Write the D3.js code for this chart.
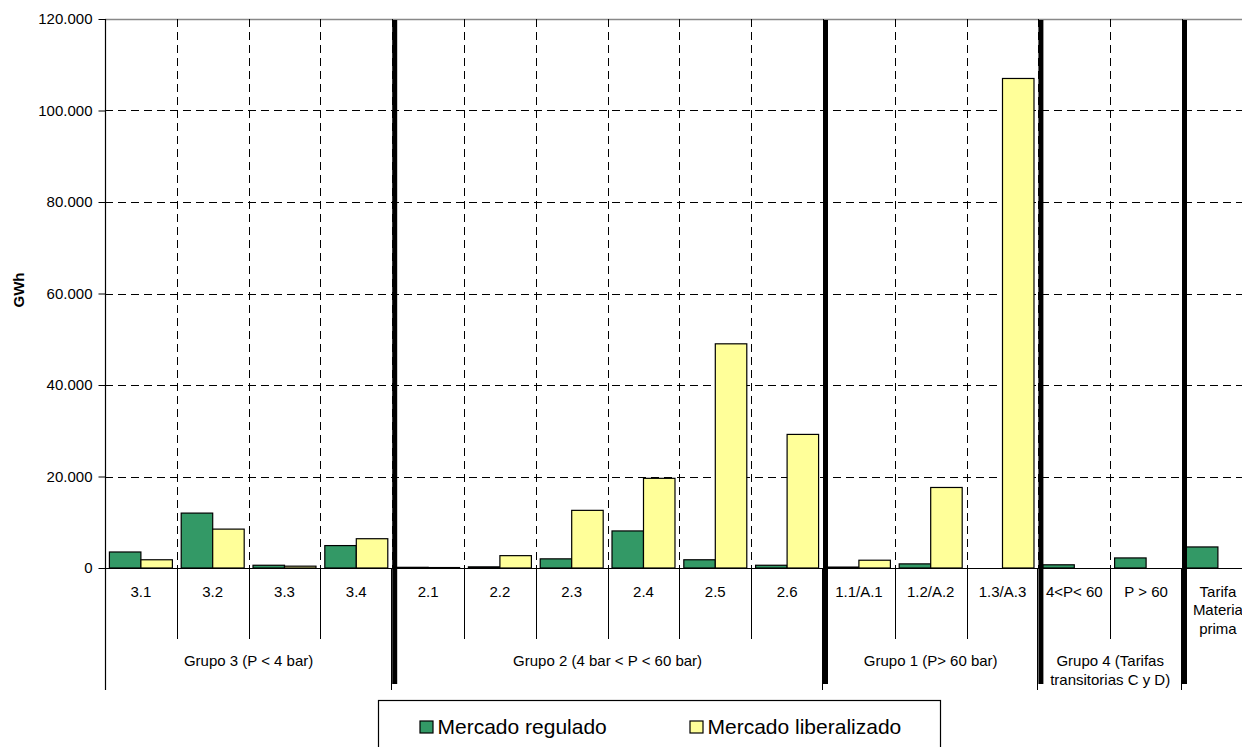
<!DOCTYPE html>
<html>
<head>
<meta charset="utf-8">
<script src="https://cdn.jsdelivr.net/npm/d3@7"></script>
<style>
html,body{margin:0;padding:0;background:#fff;overflow:hidden;}
svg{display:block;font-family:"Liberation Sans",Arial,sans-serif;}
</style>
</head>
<body>
<svg id="chart" width="1242" height="747"></svg>
<script>
const categories = ["3.1","3.2","3.3","3.4","2.1","2.2","2.3","2.4","2.5","2.6","1.1/A.1","1.2/A.2","1.3/A.3","4<P< 60","P > 60","Tarifa\nMateria\nprima"];
const regulado = [3500, 12000, 600, 4900, 150, 250, 2000, 8100, 1800, 600, 200, 900, 0, 700, 2200, 4600];
const liberalizado = [1800, 8500, 400, 6400, 100, 2700, 12600, 19600, 49000, 29200, 1700, 17600, 107000, 0, 0, 0];
const seriesNames = ["Mercado regulado", "Mercado liberalizado"];
const seriesColors = ["#339966", "#FFFF99"];
const groupLabels = ["Grupo 3 (P < 4 bar)", "Grupo 2 (4 bar < P < 60 bar)", "Grupo 1 (P> 60 bar)", "Grupo 4 (Tarifas\ntransitorias C y D)", ""];
const groupSizes = [4, 6, 3, 2, 1];
const yTicks = [0, 20000, 40000, 60000, 80000, 100000, 120000];
const yTitle = "GWh";

(function () {
const svg = d3.select("#chart");
const pLeft = 105, pTop = 19, base = 568, step = 71.8;
const pRight = pLeft + step * categories.length;

const x = d3.scaleBand().domain(d3.range(categories.length)).range([pLeft, pRight]).paddingInner(0).paddingOuter(0);
const xs = d3.scaleBand().domain([0, 1]).range([0, x.bandwidth()]).paddingInner(0).paddingOuter(0.14);
const y = d3.scaleLinear().domain([0, 120000]).range([base, pTop]);
const fmt = d3.formatLocale({decimal: ",", thousands: ".", grouping: [3], currency: ["", ""]}).format(",d");

svg.append("rect").attr("width", 1242).attr("height", 747).attr("fill", "#fff");

// horizontal gridlines
svg.append("g").selectAll("line").data(yTicks.filter(d => d > 0 && d < 120000)).join("line")
  .attr("x1", pLeft).attr("x2", 1242).attr("y1", d => Math.round(y(d)) + 0.5).attr("y2", d => Math.round(y(d)) + 0.5)
  .attr("stroke", "#000").attr("stroke-dasharray", "8,5").attr("stroke-width", 1);
// top border
svg.append("line").attr("x1", pLeft).attr("x2", 1242).attr("y1", pTop + 0.5).attr("y2", pTop + 0.5)
  .attr("stroke", "#888").attr("stroke-width", 1.5);

// vertical gridlines at category boundaries
svg.append("g").selectAll("line").data(d3.range(1, categories.length)).join("line")
  .attr("x1", i => Math.round(x(i)) + 0.5).attr("x2", i => Math.round(x(i)) + 0.5)
  .attr("y1", pTop).attr("y2", base)
  .attr("stroke", "#000").attr("stroke-dasharray", "8,5").attr("stroke-width", 1);

// bars
const barData = [];
categories.forEach((c, i) => {
  [regulado[i], liberalizado[i]].forEach((v, s) => { if (v > 0) barData.push({i, s, v}); });
});
svg.append("g").selectAll("rect").data(barData).join("rect")
  .attr("x", d => x(d.i) + xs(d.s)).attr("width", xs.bandwidth())
  .attr("y", d => y(d.v)).attr("height", d => base - y(d.v))
  .attr("fill", d => seriesColors[d.s]).attr("stroke", "#000").attr("stroke-width", 1.2);

// y axis
const yAxis = d3.axisLeft(y).tickValues(yTicks).tickFormat(fmt).tickSize(7).tickPadding(6);
const ga = svg.append("g").attr("transform", `translate(${pLeft + 0.5},0)`).call(yAxis);
ga.select(".domain").remove();
ga.selectAll("text").attr("font-size", 15).attr("fill", "#000").attr("font-family", "Liberation Sans, Arial, sans-serif");
ga.selectAll("line").attr("stroke", "#000");
svg.append("line").attr("x1", pLeft + 0.5).attr("x2", pLeft + 0.5).attr("y1", pTop).attr("y2", 690).attr("stroke", "#000").attr("stroke-width", 1.2);

// baseline
svg.append("line").attr("x1", pLeft).attr("x2", 1242).attr("y1", base + 0.5).attr("y2", base + 0.5).attr("stroke", "#000").attr("stroke-width", 1.2);

// y title
svg.append("text").attr("transform", "translate(24,290) rotate(-90)").attr("text-anchor", "middle")
  .attr("font-size", 15).attr("font-weight", "bold").text(yTitle);

// category separators & labels
const groupStarts = [];
let acc = 0;
groupSizes.forEach(n => { groupStarts.push(acc); acc += n; });
const inner = d3.range(1, categories.length).filter(i => !groupStarts.includes(i));
svg.append("g").selectAll("line").data(inner).join("line")
  .attr("x1", i => Math.round(x(i)) + 0.5).attr("x2", i => Math.round(x(i)) + 0.5)
  .attr("y1", base).attr("y2", 639).attr("stroke", "#000");
svg.append("g").selectAll("line").data(groupStarts.slice(1)).join("line")
  .attr("x1", i => Math.round(x(i)) - 0.5).attr("x2", i => Math.round(x(i)) - 0.5)
  .attr("y1", base).attr("y2", 690).attr("stroke", "#000");

const catG = svg.append("g").attr("font-size", 15).attr("text-anchor", "middle");
categories.forEach((c, i) => {
  const t = catG.append("text").attr("x", x(i) + x.bandwidth() / 2).attr("y", 596.5);
  c.split("\n").forEach((ln, k) => t.append("tspan").attr("x", x(i) + x.bandwidth() / 2).attr("dy", k ? 18.8 : 0).text(ln));
});

// group labels
const grpG = svg.append("g").attr("font-size", 15).attr("text-anchor", "middle");
groupLabels.forEach((g, gi) => {
  if (!g) return;
  const s = groupStarts[gi], e = s + groupSizes[gi];
  const cx = (x(s) + x(e - 1) + x.bandwidth()) / 2;
  const lines = g.split("\n");
  const t = grpG.append("text").attr("x", cx).attr("y", lines.length > 1 ? 666 : 665.5);
  lines.forEach((ln, k) => t.append("tspan").attr("x", cx).attr("dy", k ? 18.5 : 0).text(ln));
});

// thick group boundary lines
svg.append("g").selectAll("line").data(groupStarts.slice(1)).join("line")
  .attr("x1", i => x(i) + 2.5).attr("x2", i => x(i) + 2.5)
  .attr("y1", 20).attr("y2", 684).attr("stroke", "#000").attr("stroke-width", 5);

// legend
const lg = svg.append("g");
lg.append("rect").attr("x", 378.5).attr("y", 700.5).attr("width", 562).attr("height", 60)
  .attr("fill", "#fff").attr("stroke", "#000").attr("stroke-width", 1.2);
const legX = [420, 690];
seriesNames.forEach((n, s) => {
  lg.append("rect").attr("x", legX[s]).attr("y", 721).attr("width", 13).attr("height", 12)
    .attr("fill", seriesColors[s]).attr("stroke", "#000").attr("stroke-width", 1.2);
  lg.append("text").attr("x", legX[s] + 17.5).attr("y", 734).attr("font-size", 21).text(n);
});
})();
</script>
</body>
</html>
